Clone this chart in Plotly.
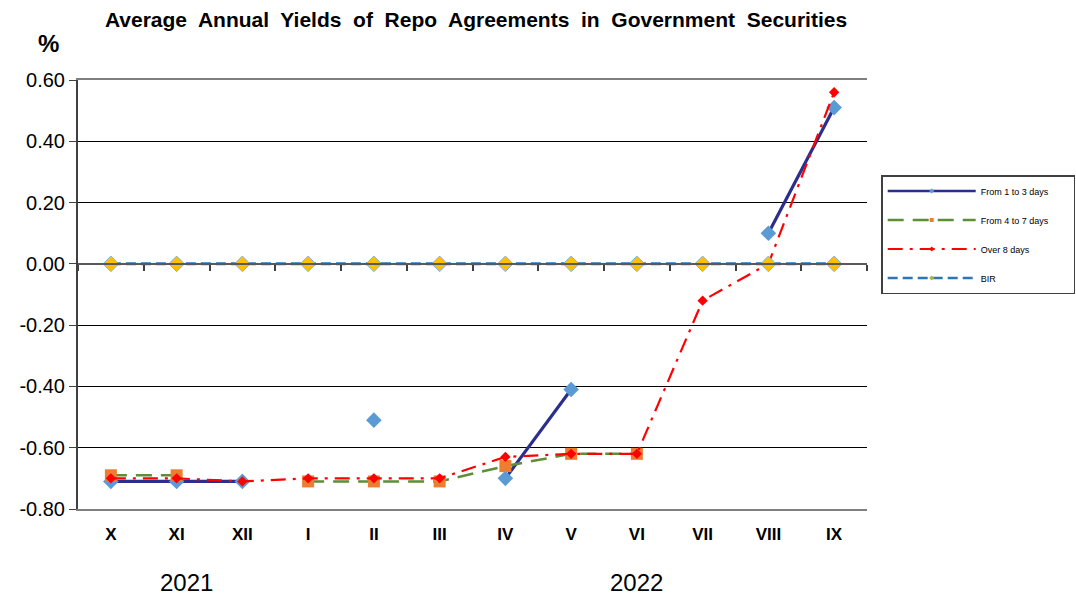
import plotly.graph_objects as go

months = ["X", "XI", "XII", "I", "II", "III", "IV", "V", "VI", "VII", "VIII", "IX"]
d1_3 = [-0.71, -0.71, -0.71, None, -0.51, None, -0.70, -0.41, None, None, 0.10, 0.51]
d4_7 = [-0.69, -0.69, None, -0.71, -0.71, -0.71, -0.66, -0.62, -0.62, None, None, None]
over8 = [-0.70, -0.70, -0.71, -0.70, -0.70, -0.70, -0.63, -0.62, -0.62, -0.12, 0.00, 0.56]
bir = [0.00] * 12
y_ticks = [0.60, 0.40, 0.20, 0.00, -0.20, -0.40, -0.60, -0.80]
years = ["2021", "2022"]
year_pos = [1.15, 8.0]
title_words = ["Average", "Annual", "Yields", "of", "Repo", "Agreements",
               "in", "Government", "Securities"]

FONT = "Liberation Sans, Arial, sans-serif"

series = [
    dict(name="From 1 to 3 days", y=d1_3,
         line=dict(color="#2B2E8C", width=3.2),
         marker=dict(symbol="diamond", size=12, color="#5B9BD5"),
         lmarker=dict(symbol="diamond", size=4, color="#5B9BD5")),
    dict(name="From 4 to 7 days", y=d4_7,
         line=dict(color="#5E8F36", width=2.5, dash="16px,9px"),
         marker=dict(symbol="square", size=12, color="#ED7D31"),
         lmarker=dict(symbol="square", size=4, color="#ED7D31")),
    dict(name="Over 8 days", y=over8,
         line=dict(color="#FF0000", width=2.2, dash="15px,7px,3px,7px"),
         marker=dict(symbol="diamond", size=8, color="#FF0000"),
         lmarker=dict(symbol="diamond", size=4, color="#FF0000")),
    dict(name="BIR", y=bir,
         line=dict(color="#2E75B6", width=3, dash="10px,5px"),
         marker=dict(symbol="diamond", size=12, color="#FFC000",
                     line=dict(color="#7FB2DD", width=1)),
         lmarker=dict(symbol="diamond", size=4, color="#A8B840")),
]

fig = go.Figure()
for s in series:
    fig.add_trace(go.Scatter(x=months, y=s["y"], name=s["name"],
                             mode="lines+markers", line=s["line"],
                             marker=s["marker"], connectgaps=False,
                             showlegend=False))
# legend-only entries (small markers like the reference legend)
for i, s in enumerate(series):
    lw = dict(s["line"])
    lw["width"] = min(lw["width"], 2.5)
    label = s["name"] + ("&nbsp;" * 8 if i == 0 else "")
    fig.add_trace(go.Scatter(x=months, y=[None] * len(months), name=label,
                             mode="lines+markers", line=lw, marker=s["lmarker"],
                             legendgroup=f"g{i}", hoverinfo="skip"))
# invisible helper trace for the zero-line axis
fig.add_trace(go.Scatter(x=months, y=bir, xaxis="x2", mode="markers",
                         marker=dict(opacity=0), showlegend=False,
                         hoverinfo="skip"))

y_lo, y_hi = -0.80, 0.60
zero_pos = (0 - y_lo) / (y_hi - y_lo)
sp = "&nbsp; "
title_text = "<b>" + sp.join(title_words) + "</b>"

fig.update_layout(
    width=1076, height=599,
    margin=dict(l=78, r=209, t=80, b=90, autoexpand=False),
    plot_bgcolor="white", paper_bgcolor="white",
    font=dict(family=FONT, color="black"),
    title=dict(text=title_text,
               x=476 / 1076, xanchor="center", y=1 - 20 / 599, yanchor="middle",
               font=dict(size=21, family=FONT)),
    xaxis=dict(type="category", categoryorder="array", categoryarray=months,
               range=[-0.5, 11.5], showgrid=False, showline=True,
               linecolor="#7F7F7F", linewidth=2, mirror=True, ticks="",
               tickfont=dict(size=17, family=FONT), ticklabelstandoff=9,
               tickprefix="<b>", ticksuffix="</b>"),
    xaxis2=dict(type="category", categoryorder="array", categoryarray=months,
                range=[-0.5, 11.5], overlaying="x", anchor="free",
                position=zero_pos, showline=True, linecolor="#595959",
                linewidth=2, ticks="outside", tickson="boundaries",
                ticklen=6, tickcolor="#404040", tickwidth=1.5,
                showticklabels=False, showgrid=False),
    yaxis=dict(range=[y_lo, y_hi], tickvals=y_ticks,
               ticktext=[f"{v:.2f}" for v in y_ticks],
               showgrid=True, gridcolor="black", gridwidth=1.2,
               zeroline=False, showline=True, linecolor="#404040",
               linewidth=2, ticks="outside", ticklen=7, tickcolor="#404040",
               tickfont=dict(size=20, family=FONT)),
    legend=dict(x=1.018, y=(509 - 175) / 429, xanchor="left", yanchor="top",
                bordercolor="#404040", borderwidth=1.5,
                font=dict(size=9, family=FONT), tracegroupgap=10,
                itemwidth=88, bgcolor="white"),
)

fig.add_annotation(text="<b>%</b>", xref="paper", yref="paper",
                   x=(48 - 78) / 789, y=(509 - 44) / 429,
                   xanchor="center", yanchor="middle",
                   showarrow=False, font=dict(size=24, family=FONT))
for yr, xp in zip(years, year_pos):
    fig.add_annotation(text=yr, xref="x", yref="paper", x=xp,
                       y=(509 - 582) / 429, xanchor="center", yanchor="middle",
                       showarrow=False, font=dict(size=24, family=FONT))

fig.write_html("out.html", config={"displayModeBar": False},
               post_script="document.body.style.margin='0';")
